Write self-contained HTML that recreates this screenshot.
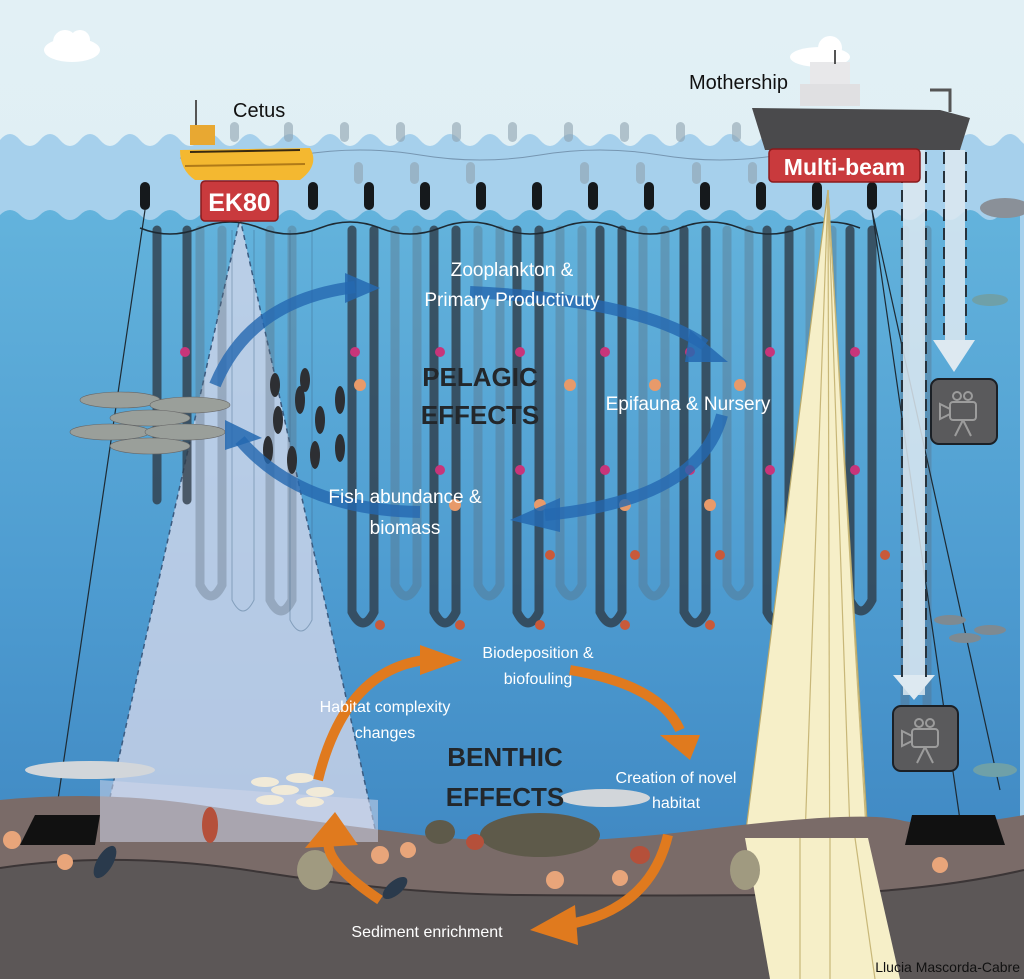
<!DOCTYPE html>
<html><head><meta charset="utf-8"><style>
html,body{margin:0;padding:0;background:#dcecf3;}
svg{display:block;}
text{font-family:"Liberation Sans",sans-serif;}
</style></head><body>
<svg width="1024" height="979" viewBox="0 0 1024 979" xmlns="http://www.w3.org/2000/svg">
<defs>
<linearGradient id="deep" x1="0" y1="0" x2="0" y2="1">
<stop offset="0" stop-color="#63b3dc"/><stop offset="0.5" stop-color="#4d9bd0"/><stop offset="1" stop-color="#3a80bd"/>
</linearGradient>
<linearGradient id="sky" x1="0" y1="0" x2="0" y2="1">
<stop offset="0" stop-color="#e2f0f5"/><stop offset="1" stop-color="#d6eaf2"/>
</linearGradient>
</defs>
<rect width="1024" height="979" fill="url(#sky)"/>
<!-- clouds -->
<g fill="#fff"><ellipse cx="72" cy="50" rx="28" ry="12"/><circle cx="65" cy="42" r="12"/><circle cx="80" cy="40" r="10"/>
<ellipse cx="820" cy="57" rx="30" ry="10"/><circle cx="830" cy="48" r="12"/></g>
<!-- surface band -->
<path d="M0 140 q10 -12 20 0 t20 0 t20 0 t20 0 t20 0 t20 0 t20 0 t20 0 t20 0 t20 0 t20 0 t20 0 t20 0 t20 0 t20 0 t20 0 t20 0 t20 0 t20 0 t20 0 t20 0 t20 0 t20 0 t20 0 t20 0 t20 0 t20 0 t20 0 t20 0 t20 0 t20 0 t20 0 t20 0 t20 0 t20 0 t20 0 t20 0 t20 0 t20 0 t20 0 t20 0 t20 0 t20 0 t20 0 t20 0 t20 0 t20 0 t20 0 t20 0 t20 0 t20 0 t20 0 V979 H0Z" fill="#a6d0ec"/>
<path d="M0 215 q10 -10 20 0 t20 0 t20 0 t20 0 t20 0 t20 0 t20 0 t20 0 t20 0 t20 0 t20 0 t20 0 t20 0 t20 0 t20 0 t20 0 t20 0 t20 0 t20 0 t20 0 t20 0 t20 0 t20 0 t20 0 t20 0 t20 0 t20 0 t20 0 t20 0 t20 0 t20 0 t20 0 t20 0 t20 0 t20 0 t20 0 t20 0 t20 0 t20 0 t20 0 t20 0 t20 0 t20 0 t20 0 t20 0 t20 0 t20 0 t20 0 t20 0 t20 0 t20 0 V979 H0Z" fill="url(#deep)"/>
<!-- surface floats -->
<g fill="#8fa3b0" opacity="0.6">
<rect x="230" y="122" width="9" height="20" rx="4.5"/><rect x="284" y="122" width="9" height="20" rx="4.5"/><rect x="340" y="122" width="9" height="20" rx="4.5"/><rect x="396" y="122" width="9" height="20" rx="4.5"/><rect x="452" y="122" width="9" height="20" rx="4.5"/><rect x="508" y="122" width="9" height="20" rx="4.5"/><rect x="564" y="122" width="9" height="20" rx="4.5"/><rect x="620" y="122" width="9" height="20" rx="4.5"/><rect x="676" y="122" width="9" height="20" rx="4.5"/><rect x="732" y="122" width="9" height="20" rx="4.5"/>
<rect x="354" y="162" width="9" height="22" rx="4.5"/><rect x="410" y="162" width="9" height="22" rx="4.5"/><rect x="466" y="162" width="9" height="22" rx="4.5"/><rect x="580" y="162" width="9" height="22" rx="4.5"/><rect x="636" y="162" width="9" height="22" rx="4.5"/><rect x="692" y="162" width="9" height="22" rx="4.5"/><rect x="748" y="162" width="9" height="22" rx="4.5"/>
</g>
<path d="M180 158 Q240 165 300 155 T420 155 T540 155 T660 155 T780 155" stroke="#56708a" stroke-width="1" fill="none" opacity="0.6"/>
<!-- EK80 beam -->
<polygon points="240,218 100,842 378,842" fill="#cfd6ea" opacity="0.8"/>
<polyline points="100,842 240,218 378,842" stroke="#3b5b80" stroke-width="1.5" stroke-dasharray="5,4" fill="none"/>
<!-- back droppers (faded) -->
<g fill="none" stroke="#5b6b7a" stroke-width="9" opacity="0.35" stroke-linecap="round">
<path d="M200 230 V585 q11 22 22 0 V230"/><path d="M270 230 V600 q11 22 22 0 V230"/><path d="M395 230 V585 q11 22 22 0 V230"/><path d="M478 230 V585 q11 22 22 0 V230"/><path d="M560 230 V585 q11 22 22 0 V230"/><path d="M643 230 V585 q11 22 22 0 V230"/><path d="M727 230 V585 q11 22 22 0 V230"/><path d="M810 230 V585 q11 22 22 0 V230"/><path d="M905 230 V720 q11 22 22 0 V230"/>
</g>
<!-- front droppers -->
<g fill="none" stroke="#2f3c48" stroke-width="9" opacity="0.8" stroke-linecap="round">
<path d="M157 230 V500 M187 230 V500"/><path d="M352 230 V612 q11 22 22 0 V230"/><path d="M434 230 V612 q11 22 22 0 V230"/><path d="M517 230 V612 q11 22 22 0 V230"/><path d="M600 230 V612 q11 22 22 0 V230"/><path d="M684 230 V612 q11 22 22 0 V230"/><path d="M767 230 V612 q11 22 22 0 V230"/><path d="M850 230 V600 q11 22 22 0 V230"/>
</g>
<g fill="none" stroke="#3a5f80" stroke-width="1" opacity="0.4"><path d="M232 230 V600 q11 22 22 0 V230"/><path d="M290 230 V620 q11 22 22 0 V230"/></g>
<!-- headline -->
<path d="M140 228 Q170 240 200 228 T260 228 T320 228 T380 228 T440 228 T500 228 T560 228 T620 228 T680 228 T740 228 T800 228 T860 228" stroke="#1e2a33" stroke-width="1.5" fill="none"/>
<g fill="#15191c">
<rect x="140" y="182" width="10" height="28" rx="5"/><rect x="308" y="182" width="10" height="28" rx="5"/><rect x="364" y="182" width="10" height="28" rx="5"/><rect x="420" y="182" width="10" height="28" rx="5"/><rect x="476" y="182" width="10" height="28" rx="5"/><rect x="532" y="182" width="10" height="28" rx="5"/><rect x="588" y="182" width="10" height="28" rx="5"/><rect x="644" y="182" width="10" height="28" rx="5"/><rect x="700" y="182" width="10" height="28" rx="5"/><rect x="756" y="182" width="10" height="28" rx="5"/><rect x="812" y="182" width="10" height="28" rx="5"/><rect x="867" y="182" width="10" height="28" rx="5"/>
</g>
<!-- anchor lines -->
<g stroke="#1e2a33" stroke-width="1.2"><line x1="145" y1="210" x2="55" y2="820"/><line x1="872" y1="210" x2="960" y2="820"/><line x1="872" y1="210" x2="1000" y2="790"/></g>
<!-- pink / shell dots -->
<g fill="#c8357a"><circle cx="185" cy="352" r="5"/><circle cx="355" cy="352" r="5"/><circle cx="440" cy="352" r="5"/><circle cx="520" cy="352" r="5"/><circle cx="605" cy="352" r="5"/><circle cx="690" cy="352" r="5"/><circle cx="770" cy="352" r="5"/><circle cx="855" cy="352" r="5"/>
<circle cx="520" cy="470" r="5"/><circle cx="605" cy="470" r="5"/><circle cx="690" cy="470" r="5"/><circle cx="770" cy="470" r="5"/><circle cx="855" cy="470" r="5"/><circle cx="440" cy="470" r="5"/></g>
<g fill="#e89a6a"><circle cx="360" cy="385" r="6"/><circle cx="570" cy="385" r="6"/><circle cx="655" cy="385" r="6"/><circle cx="740" cy="385" r="6"/><circle cx="825" cy="385" r="6"/><circle cx="455" cy="505" r="6"/><circle cx="540" cy="505" r="6"/><circle cx="625" cy="505" r="6"/><circle cx="710" cy="505" r="6"/><circle cx="795" cy="505" r="6"/></g>
<g fill="#c85a3a"><circle cx="380" cy="625" r="5"/><circle cx="460" cy="625" r="5"/><circle cx="540" cy="625" r="5"/><circle cx="625" cy="625" r="5"/><circle cx="710" cy="625" r="5"/><circle cx="790" cy="625" r="5"/><circle cx="885" cy="555" r="5"/><circle cx="805" cy="555" r="5"/><circle cx="720" cy="555" r="5"/><circle cx="635" cy="555" r="5"/><circle cx="550" cy="555" r="5"/></g>
<!-- pelagic fish school -->
<g fill="#9a9f9a" stroke="#666" stroke-width="0.6">
<ellipse cx="120" cy="400" rx="40" ry="8"/><ellipse cx="190" cy="405" rx="40" ry="8"/><ellipse cx="150" cy="418" rx="40" ry="8"/><ellipse cx="110" cy="432" rx="40" ry="8"/><ellipse cx="185" cy="432" rx="40" ry="8"/><ellipse cx="150" cy="446" rx="40" ry="8"/></g>
<!-- zooplankton -->
<g fill="#2d2f33"><ellipse cx="278" cy="420" rx="5" ry="14"/><ellipse cx="300" cy="400" rx="5" ry="14"/><ellipse cx="320" cy="420" rx="5" ry="14"/><ellipse cx="340" cy="400" rx="5" ry="14"/><ellipse cx="268" cy="450" rx="5" ry="14"/><ellipse cx="292" cy="460" rx="5" ry="14"/><ellipse cx="315" cy="455" rx="5" ry="14"/><ellipse cx="340" cy="448" rx="5" ry="14"/><ellipse cx="305" cy="380" rx="5" ry="12"/><ellipse cx="275" cy="385" rx="5" ry="12"/></g>
<!-- multibeam cone -->
<polygon points="828,190 745,838 770,979 900,979 868,838" fill="#f6efc8" stroke="#b8a86a" stroke-width="1.2"/>
<g stroke="#c8b778" stroke-width="1.2" fill="none"><line x1="828" y1="190" x2="800" y2="979"/><line x1="828" y1="190" x2="830" y2="979"/><line x1="828" y1="190" x2="855" y2="979"/><line x1="828" y1="190" x2="875" y2="979"/></g>
<!-- dashed down arrows -->
<g>
<rect x="903" y="150" width="22" height="545" fill="#dde9f1" opacity="0.85"/>
<polygon points="893,675 935,675 914,700" fill="#dde9f1"/>
<line x1="902" y1="152" x2="902" y2="680" stroke="#26323c" stroke-width="2" stroke-dasharray="12,7"/>
<line x1="926" y1="152" x2="926" y2="680" stroke="#26323c" stroke-width="2" stroke-dasharray="12,7"/>
<rect x="945" y="150" width="20" height="190" fill="#dde9f1" opacity="0.85"/>
<polygon points="933,340 975,340 954,372" fill="#dde9f1"/>
<line x1="944" y1="152" x2="944" y2="340" stroke="#26323c" stroke-width="2" stroke-dasharray="12,7"/>
<line x1="966" y1="152" x2="966" y2="340" stroke="#26323c" stroke-width="2" stroke-dasharray="12,7"/>
</g>
<!-- cameras -->
<g>
<rect x="931" y="379" width="66" height="65" rx="8" fill="#5a5a5c" stroke="#1b2026" stroke-width="2"/>
<rect x="950" y="402" width="26" height="18" rx="3" fill="none" stroke="#9c9c9c" stroke-width="2"/><circle cx="957" cy="396" r="4" fill="none" stroke="#9c9c9c" stroke-width="2"/><circle cx="968" cy="396" r="4" fill="none" stroke="#9c9c9c" stroke-width="2"/><polygon points="940,404 950,409 950,414 940,419" fill="none" stroke="#9c9c9c" stroke-width="2"/><path d="M963 420 L955 436 M963 420 L971 436" stroke="#9c9c9c" stroke-width="2"/>
<rect x="893" y="706" width="65" height="65" rx="8" fill="#5a5a5c" stroke="#1b2026" stroke-width="2"/>
<rect x="912" y="729" width="26" height="18" rx="3" fill="none" stroke="#9c9c9c" stroke-width="2"/><circle cx="919" cy="723" r="4" fill="none" stroke="#9c9c9c" stroke-width="2"/><circle cx="930" cy="723" r="4" fill="none" stroke="#9c9c9c" stroke-width="2"/><polygon points="902,731 912,736 912,741 902,746" fill="none" stroke="#9c9c9c" stroke-width="2"/><path d="M925 747 L917 763 M925 747 L933 763" stroke="#9c9c9c" stroke-width="2"/>
</g>
<!-- right fish -->
<g fill="#6fa0a8"><ellipse cx="990" cy="300" rx="18" ry="6"/><ellipse cx="995" cy="770" rx="22" ry="7"/></g>
<g fill="#7e8a92"><ellipse cx="950" cy="620" rx="16" ry="5"/><ellipse cx="990" cy="630" rx="16" ry="5"/><ellipse cx="965" cy="638" rx="16" ry="5"/></g>
<ellipse cx="1005" cy="208" rx="25" ry="10" fill="#8a9098"/>
<!-- seabed -->
<path d="M0 800 Q100 790 200 805 T420 835 T700 830 T900 820 T1024 815 V979 H0Z" fill="#7a6b68"/>
<path d="M0 868 Q120 850 260 872 T520 895 T780 895 T1024 870 V979 H0Z" fill="#5c5757"/>
<path d="M0 868 Q120 850 260 872 T520 895 T780 895 T1024 870" stroke="#3b3536" stroke-width="2" fill="none"/>
<polygon points="100,842 378,842 378,800 100,780" fill="#cfd6ea" opacity="0.55"/>
<polygon points="745,838 770,979 900,979 868,838" fill="#f6efc8"/>
<g stroke="#c8b778" stroke-width="1.2"><line x1="800" y1="838" x2="800" y2="979"/><line x1="830" y1="838" x2="830" y2="979"/><line x1="855" y1="838" x2="875" y2="979"/></g>
<!-- frames -->
<polygon points="35,815 100,815 95,845 20,845" fill="#111"/>
<polygon points="912,815 995,815 1005,845 905,845" fill="#111"/>
<!-- mussel pile and seabed creatures -->
<g fill="#5e5a4a"><ellipse cx="540" cy="835" rx="60" ry="22"/><ellipse cx="440" cy="832" rx="15" ry="12"/></g>
<g fill="#e8a57a"><circle cx="12" cy="840" r="9"/><circle cx="65" cy="862" r="8"/><circle cx="380" cy="855" r="9"/><circle cx="408" cy="850" r="8"/><circle cx="555" cy="880" r="9"/><circle cx="620" cy="878" r="8"/><circle cx="940" cy="865" r="8"/></g>
<ellipse cx="315" cy="870" rx="18" ry="20" fill="#a09a80"/><ellipse cx="745" cy="870" rx="15" ry="20" fill="#a09a80"/>
<g fill="#b5503a"><ellipse cx="210" cy="825" rx="8" ry="18"/><ellipse cx="640" cy="855" rx="10" ry="9"/><ellipse cx="475" cy="842" rx="9" ry="8"/></g>
<g fill="#2a3a4c"><ellipse cx="105" cy="862" rx="8" ry="18" transform="rotate(30 105 862)"/><ellipse cx="395" cy="888" rx="7" ry="15" transform="rotate(50 395 888)"/></g>
<!-- sharks -->
<ellipse cx="90" cy="770" rx="65" ry="9" fill="#d2d6da"/>
<ellipse cx="605" cy="798" rx="45" ry="9" fill="#d2d6da"/>
<g fill="#f1ead8"><ellipse cx="265" cy="782" rx="14" ry="5"/><ellipse cx="300" cy="778" rx="14" ry="5"/><ellipse cx="285" cy="790" rx="14" ry="5"/><ellipse cx="320" cy="792" rx="14" ry="5"/><ellipse cx="270" cy="800" rx="14" ry="5"/><ellipse cx="310" cy="802" rx="14" ry="5"/></g>
<!-- pelagic arrows -->
<g fill="none" stroke="#2468b0" stroke-width="12" opacity="0.8">
<path d="M215 385 Q250 300 355 287"/>
<path d="M470 292 Q640 300 705 345"/>
<path d="M722 415 Q700 500 545 515"/>
<path d="M420 512 Q300 510 240 440"/>
</g>
<g fill="#2468b0" opacity="0.85">
<polygon points="345,273 380,288 345,303"/>
<polygon points="690,330 728,362 685,362"/>
<polygon points="560,498 510,520 560,532"/>
<polygon points="225,450 225,420 262,438"/>
</g>
<!-- benthic arrows -->
<g fill="none" stroke="#e07a1e" stroke-width="10">
<path d="M318 780 Q345 670 425 660"/>
<path d="M570 670 Q660 685 680 730"/>
<path d="M668 835 Q650 910 565 925"/>
<path d="M380 900 Q320 860 330 838"/>
</g>
<g fill="#e07a1e">
<polygon points="420,645 462,660 420,675"/>
<polygon points="660,735 700,735 690,760"/>
<polygon points="575,905 530,930 578,945"/>
<polygon points="305,848 335,812 358,845"/>
</g>
<!-- Cetus boat -->
<g>
<line x1="196" y1="100" x2="196" y2="135" stroke="#555" stroke-width="2"/>
<rect x="190" y="125" width="25" height="20" fill="#e8a832"/>
<path d="M180 150 L310 148 Q320 165 300 180 L195 180 Q180 170 180 150Z" fill="#f4b830"/>
<path d="M190 152 L300 150" stroke="#3a2a10" stroke-width="2"/>
<path d="M185 166 L305 164" stroke="#b07a18" stroke-width="2"/>
</g>
<!-- Mothership -->
<g>
<rect x="810" y="62" width="40" height="22" fill="#e8e8ea"/>
<rect x="800" y="84" width="60" height="22" fill="#e0e0e2"/>
<line x1="835" y1="50" x2="835" y2="64" stroke="#555" stroke-width="2"/>
<path d="M752 108 L940 110 L970 118 L960 150 L765 150 Z" fill="#4a4a4c"/>
<path d="M930 90 L950 90 L950 112" stroke="#555" stroke-width="3" fill="none"/>
</g>
<!-- labels boxes -->
<rect x="201" y="181" width="77" height="40" rx="4" fill="#c93a3d" stroke="#8a1a1c" stroke-width="1.5"/>
<text x="239.5" y="211" text-anchor="middle" font-size="25" font-weight="bold" fill="#fff">EK80</text>
<rect x="769" y="149" width="151" height="33" rx="4" fill="#c93a3d" stroke="#8a1a1c" stroke-width="1.5"/>
<text x="844.5" y="175" text-anchor="middle" font-size="23" font-weight="bold" fill="#fff">Multi-beam</text>
<text x="233" y="117" font-size="20" fill="#111">Cetus</text>
<text x="689" y="89" font-size="20" fill="#111">Mothership</text>
<!-- effect labels -->
<g fill="#fff" font-size="19">
<text x="512" y="276" text-anchor="middle">Zooplankton &amp;</text>
<text x="512" y="306" text-anchor="middle">Primary Productivuty</text>
<text x="688" y="410" text-anchor="middle">Epifauna &amp; Nursery</text>
<text x="405" y="503" text-anchor="middle">Fish abundance &amp;</text>
<text x="405" y="534" text-anchor="middle">biomass</text>
</g>
<g fill="#23272b" font-size="26" font-weight="bold">
<text x="480" y="386" text-anchor="middle">PELAGIC</text>
<text x="480" y="424" text-anchor="middle">EFFECTS</text>
<text x="505" y="766" text-anchor="middle">BENTHIC</text>
<text x="505" y="806" text-anchor="middle">EFFECTS</text>
</g>
<g fill="#fff" font-size="16">
<text x="538" y="658" text-anchor="middle">Biodeposition &amp;</text>
<text x="538" y="684" text-anchor="middle">biofouling</text>
<text x="385" y="712" text-anchor="middle">Habitat complexity</text>
<text x="385" y="738" text-anchor="middle">changes</text>
<text x="676" y="783" text-anchor="middle">Creation of novel</text>
<text x="676" y="808" text-anchor="middle">habitat</text>
<text x="427" y="937" text-anchor="middle">Sediment enrichment</text>
</g>
<text x="1020" y="972" text-anchor="end" font-size="14" fill="#111">Llucia Mascorda-Cabre</text>
</svg>
</body></html>
